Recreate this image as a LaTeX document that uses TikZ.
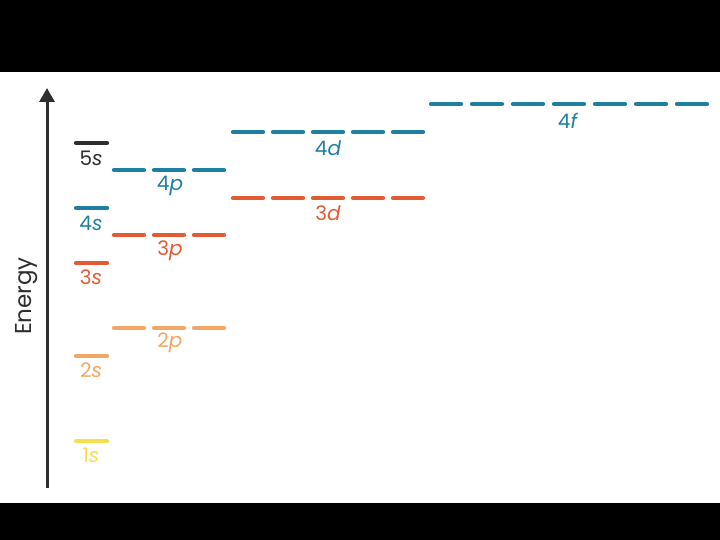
\documentclass[tikz,border=0pt]{standalone}
\usepackage{fontspec}
\setmainfont{Poppins}
\usetikzlibrary{arrows.meta}
\definecolor{cteal}{HTML}{1E7FA2}
\definecolor{cred}{HTML}{E35B35}
\definecolor{corange}{HTML}{F2A865}
\definecolor{cyellow}{HTML}{F5DF4D}
\definecolor{cdark}{HTML}{2E2E2E}
\tikzset{
  lvl/.style={line width=4.2pt, line cap=round},
  lbl/.style={font=\fontsize{20}{24}\selectfont, inner sep=0pt, anchor=center},
}
\newcommand{\orb}[2]{#1\textit{#2}}
\begin{document}
\begin{tikzpicture}[x=1pt,y=-1pt]
\useasboundingbox (0,0) rectangle (720,540);
\fill[black] (0,0) rectangle (720,72);
\fill[black] (0,503) rectangle (720,540);
% axis
\coordinate (ax0) at (47,488);
\coordinate (ax1) at (47,88);
\draw[cdark, line width=3pt, -{Triangle[width=15pt,length=14pt]}] (ax0) -- (ax1);
\node[lbl, rotate=90, font=\fontsize{23}{26}\selectfont, text=cdark] (energy) at (27,296) {Energy};
% s levels
\draw[lvl, cdark] (76,143) -- (107,143);
\node[lbl, text=cdark] (l5s) at (91,158) {\orb{5}{s}};
\draw[lvl, cteal] (76,208) -- (107,208);
\node[lbl, text=cteal] (l4s) at (91,223) {\orb{4}{s}};
\draw[lvl, cred] (76,263) -- (107,263);
\node[lbl, text=cred] (l3s) at (91,277) {\orb{3}{s}};
\draw[lvl, corange] (76,356) -- (107,356);
\node[lbl, text=corange] (l2s) at (91,370) {\orb{2}{s}};
\draw[lvl, cyellow] (76,441) -- (107,441);
\node[lbl, text=cyellow] (l1s) at (91,455) {\orb{1}{s}};
% p levels
\foreach \x in {114,154,194} {
  \draw[lvl, cteal] (\x,170) -- (\x+30,170);
  \draw[lvl, cred] (\x,235) -- (\x+30,235);
  \draw[lvl, corange] (\x,328) -- (\x+30,328);
}
\node[lbl, text=cteal] (l4p) at (170,186) {\orb{4}{p}};
\node[lbl, text=cred] (l3p) at (170,251) {\orb{3}{p}};
\node[lbl, text=corange] (l2p) at (170,343) {\orb{2}{p}};
% d levels
\foreach \x in {233,273,313,353,393} {
  \draw[lvl, cteal] (\x,132) -- (\x+30,132);
  \draw[lvl, cred] (\x,198) -- (\x+30,198);
}
\node[lbl, text=cteal] (l4d) at (328,148) {\orb{4}{d}};
\node[lbl, text=cred] (l3d) at (328,213) {\orb{3}{d}};
% f levels
\foreach \x in {431,472,513,554,595,636,677} {
  \draw[lvl, cteal] (\x,104) -- (\x+30,104);
}
\node[lbl, text=cteal] (l4f) at (568,121) {\orb{4}{f}};
\end{tikzpicture}
\end{document}
